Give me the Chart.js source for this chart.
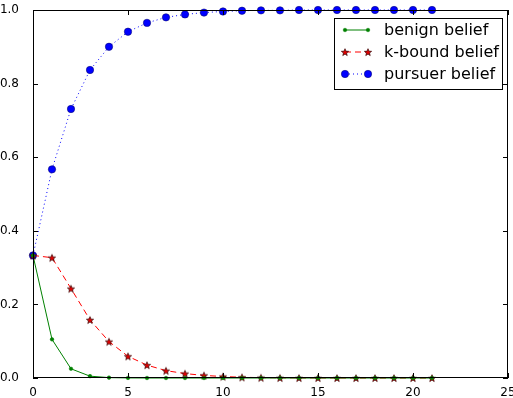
<!DOCTYPE html>
<html>
<head>
<meta charset="utf-8">
<script src="https://cdn.jsdelivr.net/npm/chart.js@4/dist/chart.umd.min.js"></script>
<style>
  html, body { margin: 0; padding: 0; background: #fff; }
  #wrap { width: 513px; height: 398px; }
</style>
</head>
<body>
<div id="wrap"><canvas id="myChart" width="513" height="398"></canvas></div>
<script>
// valores
const steps = [0,1,2,3,4,5,6,7,8,9,10,11,12,13,14,15,16,17,18,19,20,21];
const benign = [0.333,0.105,0.025,0.005,0.001,0.0002,0,0,0,0,0,0,0,0,0,0,0,0,0,0,0,0];
const kbound = [0.333,0.327,0.243,0.158,0.099,0.059,0.035,0.020,0.012,0.007,0.004,0.002,0.001,0.0005,0.0003,0.0002,0.0001,0,0,0,0,0];
const pursuer = [0.333,0.567,0.731,0.837,0.900,0.941,0.965,0.980,0.988,0.993,0.996,0.998,0.999,0.999,1,1,1,1,1,1,1,1];
const labels = ['benign belief', 'k-bound belief', 'pursuer belief'];
const xTicks = [0,5,10,15,20,25];
const yTicks = [0,0.2,0.4,0.6,0.8,1.0];

const legendFont = '16px "DejaVu Sans", sans-serif';

// estrella rellena para los puntos
const makeStar = (r) => {
    const c = document.createElement('canvas');
    const s = Math.ceil(r * 2 + 2);
    c.width = c.height = s;
    const ctx = c.getContext('2d');
    ctx.beginPath();
    for (let i = 0; i < 10; i++) {
        const rad = i % 2 == 0 ? r : r * 0.42;
        const a = -Math.PI / 2 + i * Math.PI / 5;
        const px = s / 2 + rad * Math.cos(a);
        const py = s / 2 + 0.5 + rad * Math.sin(a);
        if (i == 0) ctx.moveTo(px, py); else ctx.lineTo(px, py);
    }
    ctx.closePath();
    ctx.fillStyle = '#e00000';
    ctx.fill();
    ctx.lineWidth = 0.7;
    ctx.strokeStyle = '#300';
    ctx.stroke();
    return c;
};
const star = makeStar(3.8);

const styles = [
    { color: '#008000', dash: [], pointStyle: 'circle', radius: 1.8, border: '#008000' },
    { color: '#ff0000', dash: [6, 4], pointStyle: star, radius: 3.8, border: '#000' },
    { color: '#0000ff', dash: [1, 3], pointStyle: 'circle', radius: 3.7, border: '#000060' }
];

const series = [benign, kbound, pursuer];

// marco, ticks hacia dentro y leyenda
const framePlugin = {
    id: 'frame',
    afterDraw(chart) {
        const { ctx, chartArea: a, scales: { x, y } } = chart;
        ctx.save();
        ctx.strokeStyle = '#000';
        ctx.lineWidth = 1;
        ctx.strokeRect(a.left + 0.5, a.top + 0.5, a.right - a.left - 1, a.bottom - a.top - 1);
        ctx.beginPath();
        for (const t of xTicks) {
            const px = Math.round(x.getPixelForValue(t)) + 0.5;
            ctx.moveTo(px, a.bottom); ctx.lineTo(px, a.bottom - 5);
            ctx.moveTo(px, a.top); ctx.lineTo(px, a.top + 5);
        }
        for (const t of yTicks) {
            const py = Math.round(y.getPixelForValue(t)) + 0.5;
            ctx.moveTo(a.left, py); ctx.lineTo(a.left + 5, py);
            ctx.moveTo(a.right, py); ctx.lineTo(a.right - 5, py);
        }
        ctx.stroke();

        // leyenda
        const lx = 334, ly = 18, lw = 168, lh = 71;
        ctx.fillStyle = '#fff';
        ctx.fillRect(lx, ly, lw, lh);
        ctx.strokeRect(lx + 0.5, ly + 0.5, lw, lh);
        ctx.font = legendFont;
        ctx.textBaseline = 'middle';
        labels.forEach((lab, i) => {
            const st = styles[i];
            const cy = ly + 12 + i * 22;
            ctx.strokeStyle = st.color;
            ctx.setLineDash(st.dash);
            ctx.beginPath();
            ctx.moveTo(lx + 11, cy); ctx.lineTo(lx + 34, cy);
            ctx.stroke();
            ctx.setLineDash([]);
            for (const px of [lx + 11, lx + 34]) {
                if (i == 1) {
                    ctx.drawImage(star, px - star.width / 2, cy - star.height / 2);
                } else {
                    ctx.beginPath();
                    ctx.arc(px, cy, st.radius, 0, Math.PI * 2);
                    ctx.fillStyle = st.color;
                    ctx.fill();
                    ctx.strokeStyle = st.border;
                    ctx.lineWidth = 0.5;
                    ctx.stroke();
                    ctx.lineWidth = 1;
                }
            }
            ctx.fillStyle = '#000';
            ctx.fillText(lab, lx + 50, cy + 1);
        });
        ctx.restore();
    }
};

const data = {
    labels: steps,
    datasets: series.map((vals, i) => ({
        label: labels[i],
        data: steps.map((s, j) => ({ x: s, y: vals[j] })),
        borderColor: styles[i].color,
        backgroundColor: styles[i].color,
        borderWidth: 1,
        borderDash: styles[i].dash,
        pointStyle: styles[i].pointStyle,
        pointRadius: styles[i].radius,
        pointBorderColor: styles[i].border,
        pointBorderWidth: 0.5,
        tension: 0,
        clip: false
    }))
};

const config = {
    type: 'line',
    data: data,
    options: {
        responsive: false,
        animation: false,
        layout: {
            autoPadding: false,
            padding: { top: 10, right: 5, left: 0, bottom: 0 }
        },
        plugins: { legend: { display: false }, tooltip: { enabled: false } },
        scales: {
            x: {
                type: 'linear',
                min: 0, max: 25,
                afterFit: (s) => { s.height = 20; s.paddingLeft = 0; s.paddingRight = 0; },
                afterBuildTicks: (s) => { s.ticks = xTicks.map(v => ({ value: v })); },
                grid: { display: false },
                border: { display: false },
                ticks: { color: '#000', font: { family: 'DejaVu Sans', size: 12 }, padding: 0, maxRotation: 0 }
            },
            y: {
                min: 0, max: 1,
                afterFit: (s) => { s.width = 33; s.paddingTop = 0; s.paddingBottom = 0; },
                afterBuildTicks: (s) => { s.ticks = yTicks.map(v => ({ value: v })); },
                grid: { display: false },
                border: { display: false },
                ticks: { color: '#000', font: { family: 'DejaVu Sans', size: 12 }, padding: 6,
                    callback: (v) => v.toFixed(1) }
            }
        }
    },
    plugins: [framePlugin]
};

new Chart(document.getElementById('myChart'), config);
</script>
</body>
</html>
